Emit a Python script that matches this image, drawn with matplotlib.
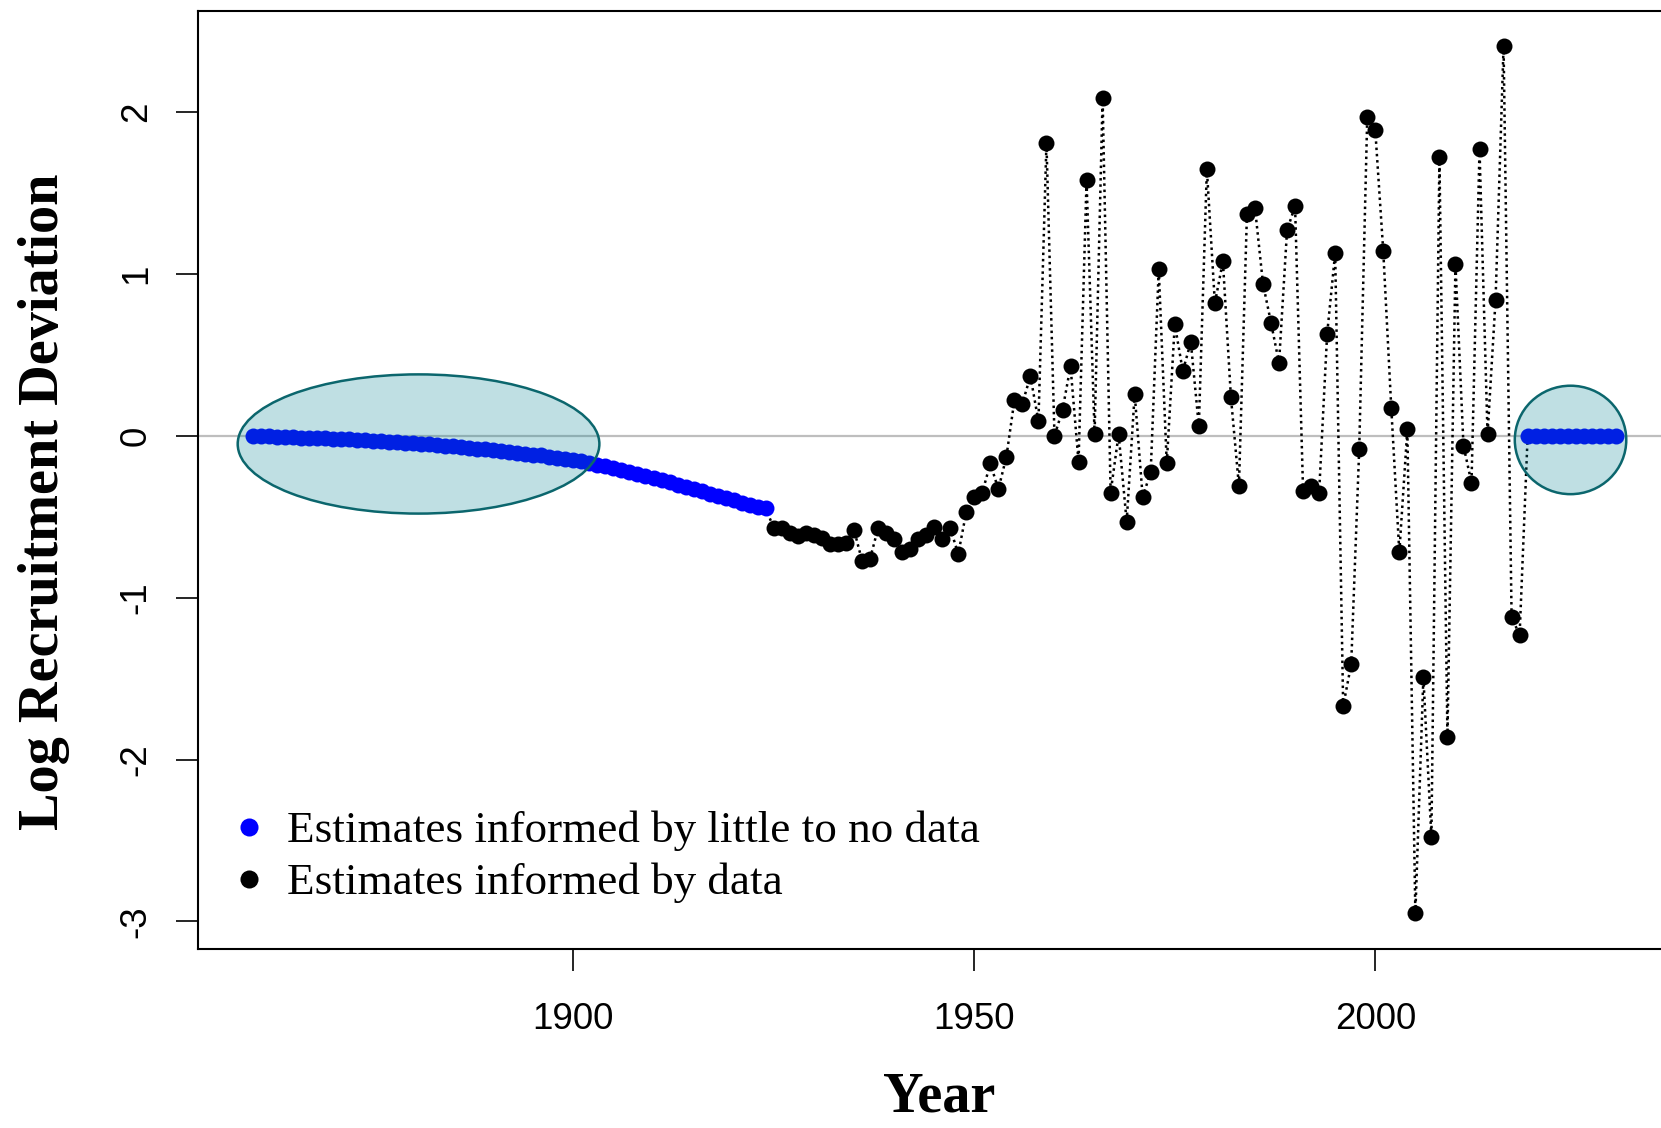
import numpy as np
import matplotlib
matplotlib.use('Agg')
import matplotlib.pyplot as pl
from matplotlib.patches import Ellipse
from matplotlib.lines import Line2D

pl.rcParams['axes.unicode_minus'] = False


# early years: estimates informed by little to no data
early_years = list(range(1860, 1925))
early_dev = [0.000, -0.001, -0.003, -0.004, -0.006, -0.008, -0.010, -0.012,
             -0.014, -0.016, -0.018, -0.020, -0.022, -0.025, -0.027, -0.030,
             -0.033, -0.036, -0.039, -0.042, -0.046, -0.050, -0.053, -0.057,
             -0.061, -0.065, -0.069, -0.074, -0.078, -0.083, -0.088, -0.093,
             -0.098, -0.104, -0.109, -0.115, -0.121, -0.128, -0.134, -0.141,
             -0.148, -0.158, -0.168, -0.178, -0.189, -0.200, -0.211, -0.223,
             -0.235, -0.247, -0.260, -0.273, -0.287, -0.301, -0.315, -0.329,
             -0.343, -0.357, -0.371, -0.385, -0.399, -0.412, -0.425, -0.437,
             -0.448]

# years informed by data
data_years = list(range(1925, 2019))
data_dev = [-0.57, -0.57, -0.60, -0.62, -0.60, -0.61, -0.63, -0.67, -0.67, -0.66,
            -0.58, -0.77, -0.76, -0.57, -0.60, -0.64, -0.72, -0.70, -0.64, -0.61,
            -0.56, -0.64, -0.57, -0.73, -0.47, -0.38, -0.35, -0.17, -0.33, -0.13,
            0.22, 0.20, 0.37, 0.09, 1.81, 0.00, 0.16, 0.43, -0.16, 1.58,
            0.01, 2.09, -0.35, 0.01, -0.53, 0.26, -0.38, -0.22, 1.03, -0.17,
            0.69, 0.40, 0.58, 0.06, 1.65, 0.82, 1.08, 0.24, -0.31, 1.37,
            1.41, 0.94, 0.70, 0.45, 1.27, 1.42, -0.34, -0.31, -0.35, 0.63,
            1.13, -1.67, -1.41, -0.08, 1.97, 1.89, 1.14, 0.17, -0.72, 0.04,
            -2.95, -1.49, -2.48, 1.72, -1.86, 1.06, -0.06, -0.29, 1.77, 0.01,
            0.84, 2.41, -1.12, -1.23]

# forecast years, again little to no data
late_years = list(range(2019, 2031))
late_dev = [0.0] * 12

legend_labels = ['Estimates informed by little to no data',
                 'Estimates informed by data']

all_years = early_years + data_years + late_years
all_dev = early_dev + data_dev + late_dev


fig = pl.figure(figsize=(16.61, 11.28), dpi=100)
ax = fig.add_axes([198/1661., 1-949/1128., 1482/1661., 938/1128.])

ax.axhline(0, color='#bebebe', lw=1.6, zorder=1)

ax.plot(all_years, all_dev, color='black', lw=1.8,
        linestyle=(0, (1, 1.5)), zorder=2)
ax.plot(data_years, data_dev, 'o', color='black', ms=11.5, mew=0, zorder=3)
ax.plot(early_years, early_dev, 'o', color='#0000ff', ms=11.5, mew=0, zorder=3)
ax.plot(late_years, late_dev, 'o', color='#0000ff', ms=11.5, mew=0, zorder=3)

# shaded ellipses around the years with little to no data
for cx, cy, w, h in [(1880.7, -0.05, 45.1, 0.86), (2024.35, -0.025, 13.9, 0.67)]:
    e = Ellipse((cx, cy), w, h, facecolor=(3/255., 131/255., 147/255., 0.25),
                edgecolor='#0b666d', lw=1.8, zorder=4)
    ax.add_patch(e)

ax.set_xlim(1853.2, 2038.0)
ax.set_ylim(-3.17, 2.625)
ax.set_xticks([1900, 1950, 2000])
ax.set_yticks([-3, -2, -1, 0, 1, 2])

for s in ['left', 'bottom', 'top', 'right']:
    ax.spines[s].set_linewidth(1.5)

ax.tick_params(direction='out', length=15.8, width=1.2, labelsize=26.5)
ax.tick_params(axis='x', pad=22.5)
ax.tick_params(axis='y', pad=16)
for lab in ax.get_xticklabels() + ax.get_yticklabels():
    lab.set_family('Liberation Sans')
pl.setp(ax.get_yticklabels(), rotation=90, va='center')

ax.set_xlabel('Year', family='Liberation Serif', fontweight='bold',
              fontsize=40.5, labelpad=25)
ax.set_ylabel('Log Recruitment Deviation', family='Liberation Serif',
              fontweight='bold', fontsize=40.5, labelpad=35)
ax.yaxis.label.set_y(0.4765)

handles = [Line2D([], [], marker='o', ls='none', color='#0000ff', ms=13, mew=0),
           Line2D([], [], marker='o', ls='none', color='black', ms=13, mew=0)]
ax.legend(handles, legend_labels, loc='center left',
          bbox_to_anchor=(0.0195, 0.098), frameon=False, borderpad=0,
          borderaxespad=0, prop={'family': 'Liberation Serif', 'size': 32.5},
          handlelength=1.0, handletextpad=0.33, labelspacing=0.25)

pl.savefig('out.png', dpi=100)
